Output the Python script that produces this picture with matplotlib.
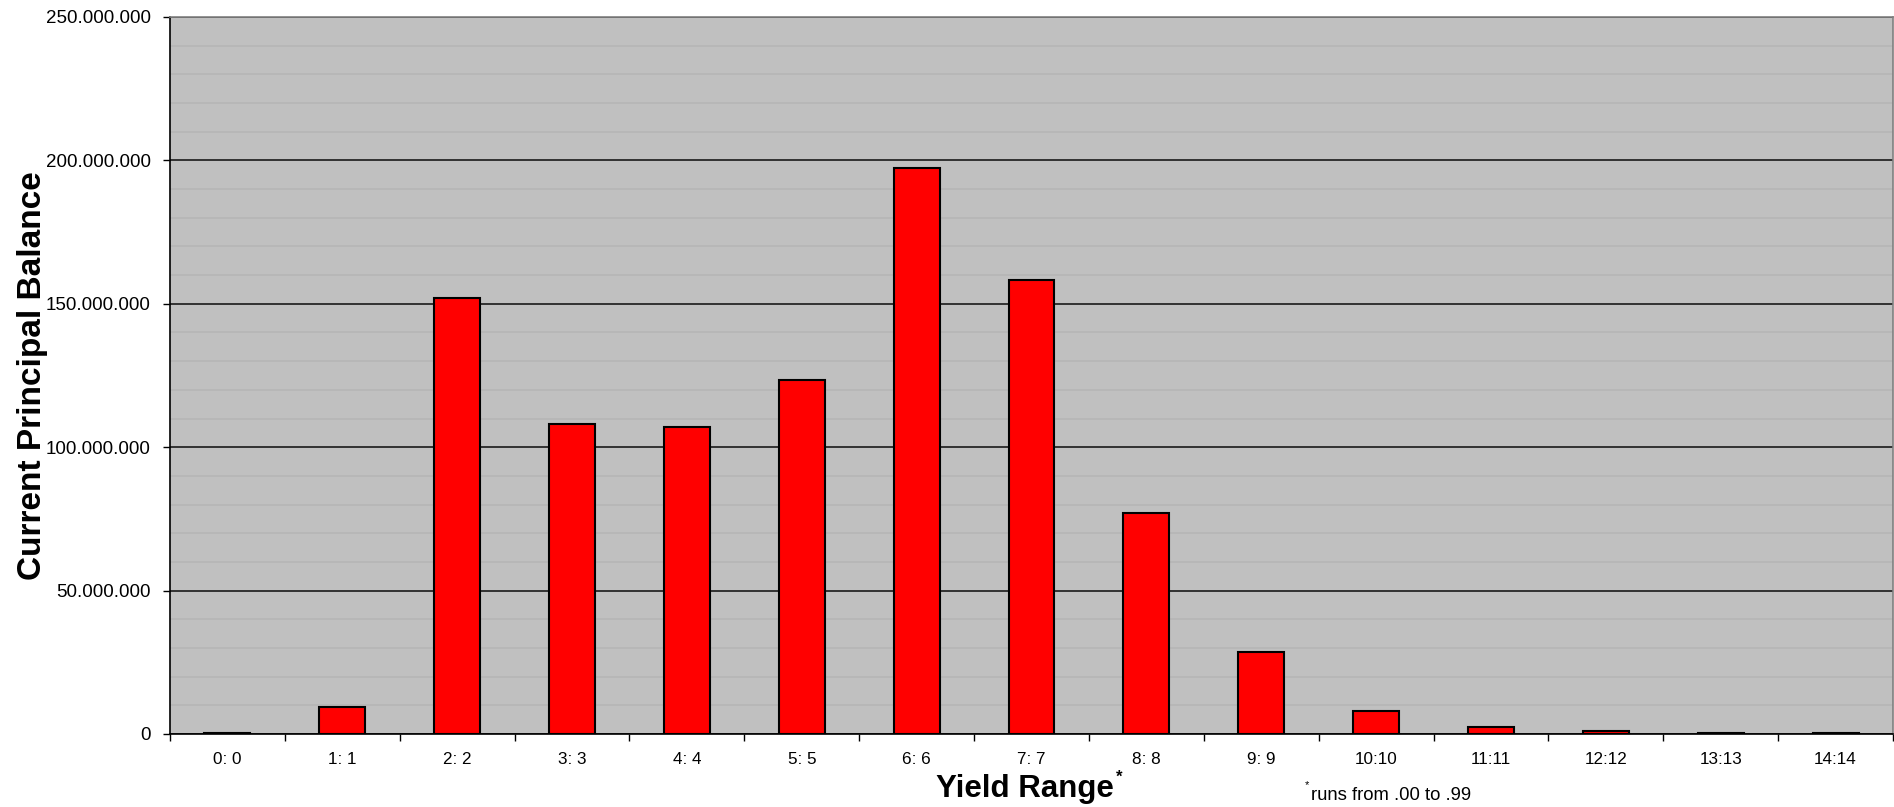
import numpy as np
import matplotlib.pyplot as plt
from matplotlib.ticker import FuncFormatter, MultipleLocator

# yield range buckets and current principal balance
categories = ["0: 0", "1: 1", "2: 2", "3: 3", "4: 4", "5: 5", "6: 6", "7: 7",
              "8: 8", "9: 9", "10:10", "11:11", "12:12", "13:13", "14:14"]
balance = [0.3e6, 9.3e6, 152.0e6, 108.2e6, 106.9e6, 123.4e6, 197.3e6, 158.2e6,
           77.0e6, 28.6e6, 8.0e6, 2.4e6, 1.0e6, 0.4e6, 0.2e6]

plt.rcParams['font.family'] = ['Liberation Sans', 'DejaVu Sans']

fig = plt.figure(figsize=(18.94, 8.07), dpi=100)
ax = fig.add_axes([170 / 1894, 73 / 807, 1723 / 1894, 717 / 807])
ax.set_facecolor('#c0c0c0')

x = np.arange(len(categories))
ax.bar(x, balance, width=0.4, color='#ff0000', edgecolor='black', linewidth=1.5, zorder=3)

ax.set_xlim(-0.5, len(categories) - 0.5)
ax.set_ylim(0, 250e6)

# gridlines: light minor every 10M, black major every 50M
ax.yaxis.set_major_locator(MultipleLocator(50e6))
ax.yaxis.set_minor_locator(MultipleLocator(10e6))
ax.grid(which='minor', axis='y', color='#b6b6b6', linewidth=1.2, zorder=1)
ax.grid(which='major', axis='y', color='#1a1a1a', linewidth=1.2, zorder=2)
ax.tick_params(axis='y', which='minor', length=0)
ax.yaxis.set_major_formatter(FuncFormatter(lambda v, p: '0' if v == 0 else f'{int(v):,}'.replace(',', '.')))
ax.tick_params(axis='y', which='major', length=5, width=1, pad=9, labelsize=13.5)

ax.set_xticks(x)
ax.set_xticklabels(categories)
ax.set_xticks(np.arange(-0.5, len(categories)), minor=True)
ax.tick_params(axis='x', which='major', length=0, pad=13, labelsize=12.3)
ax.tick_params(axis='x', which='minor', length=5, width=1)

for s in ['left', 'bottom']:
    ax.spines[s].set_color('black')
    ax.spines[s].set_linewidth(1.2)
for s in ['top', 'right']:
    ax.spines[s].set_color('#808080')
    ax.spines[s].set_linewidth(1.2)

fig.text(33 / 1894, 0.534, 'Current Principal Balance', rotation=90,
         ha='center', va='center', fontsize=24, fontweight='bold')
fig.text(1025 / 1894, 10 / 807, 'Yield Range', ha='center', va='baseline',
         fontsize=22.5, fontweight='bold')
fig.text(1116 / 1894, 25 / 807, '*', ha='left', va='baseline', fontsize=12, fontweight='bold')
fig.text(1311 / 1894, 7 / 807, 'runs from .00 to .99', ha='left', va='baseline', fontsize=13.3)
fig.text(1305 / 1894, 19 / 807, '*', ha='left', va='baseline', fontsize=8)

fig.savefig('out.png', dpi=100)
